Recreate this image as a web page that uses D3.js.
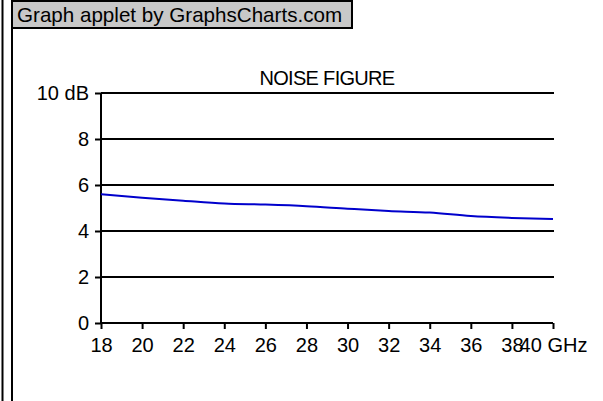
<!DOCTYPE html>
<html>
<head>
<meta charset="utf-8">
<script src="https://cdn.jsdelivr.net/npm/d3@7"></script>
<style>
html,body{margin:0;padding:0;background:#fff;}
svg{display:block;font-family:"Liberation Sans",Arial,sans-serif;}
</style>
</head>
<body>
<svg id="chart" width="603" height="401"></svg>
<script>
const frequencies = [18, 20, 22, 24, 26, 28, 30, 32, 34, 36, 38, 40];
const noiseFigure = [5.6, 5.45, 5.32, 5.2, 5.15, 5.08, 4.97, 4.87, 4.8, 4.65, 4.57, 4.52];
const xTicks = [18, 20, 22, 24, 26, 28, 30, 32, 34, 36, 38, 40];
const xTickLabels = ["18", "20", "22", "24", "26", "28", "30", "32", "34", "36", "38", "40 GHz"];
const yTicks = [0, 2, 4, 6, 8, 10];
const yTickLabels = ["0", "2", "4", "6", "8", "10 dB"];
const title = "NOISE FIGURE";
const credit = "Graph applet by GraphsCharts.com";

const svg = d3.select("#chart");
const fs = 20;

// frame
svg.append("line").attr("x1", 2.5).attr("x2", 2.5).attr("y1", 0).attr("y2", 401)
  .attr("stroke", "#000").attr("stroke-width", 2);
svg.append("line").attr("x1", 12).attr("x2", 12).attr("y1", 0).attr("y2", 401)
  .attr("stroke", "#000").attr("stroke-width", 2);
svg.append("rect").attr("x", 12).attr("y", 1).attr("width", 340).attr("height", 27)
  .attr("fill", "#c8c8c8").attr("stroke", "#000").attr("stroke-width", 2);
svg.append("text").attr("x", 17).attr("y", 22).attr("font-size", 20.6).attr("fill", "#000")
  .text(credit);

const x = d3.scaleLinear().domain([18, 40]).range([101, 553]);
const y = d3.scaleLinear().domain([0, 10]).range([323, 93]);

// gridlines
svg.append("g").selectAll("line").data(yTicks.filter(d => d > 0)).join("line")
  .attr("x1", 101).attr("x2", 554)
  .attr("y1", d => y(d)).attr("y2", d => y(d))
  .attr("stroke", "#000").attr("stroke-width", 2);

// y axis
const yAxis = d3.axisLeft(y).tickValues(yTicks).tickSize(6).tickPadding(6)
  .tickFormat((d, i) => yTickLabels[i]);
const gy = svg.append("g").attr("transform", "translate(101,0)").call(yAxis);
gy.select(".domain").attr("stroke-width", 2).attr("d", `M0,${y(0)}V${y(10)}`);
gy.selectAll(".tick line").attr("stroke-width", 2);
gy.selectAll("text").attr("font-size", fs).attr("font-family", "Liberation Sans, Arial, sans-serif").attr("fill", "#000");

// x axis
const xAxis = d3.axisBottom(x).tickValues(xTicks).tickSize(6).tickPadding(9)
  .tickFormat((d, i) => xTickLabels[i]);
const gx = svg.append("g").attr("transform", `translate(0,${y(0)})`).call(xAxis);
gx.select(".domain").attr("stroke-width", 2).attr("d", `M${x(18)},0H${x(40)}`);
gx.selectAll(".tick line").attr("stroke-width", 2);
gx.selectAll("text").attr("font-size", fs).attr("font-family", "Liberation Sans, Arial, sans-serif").attr("fill", "#000");

// title
svg.append("text").attr("x", (x(18) + x(40)) / 2).attr("y", 85).attr("text-anchor", "middle")
  .attr("font-size", fs).attr("letter-spacing", -0.7).attr("fill", "#000").text(title);

// line
const line = d3.line().x((d, i) => x(frequencies[i])).y(d => y(d)).curve(d3.curveMonotoneX);
svg.append("path").datum(noiseFigure).attr("d", line)
  .attr("fill", "none").attr("stroke", "#0000cc").attr("stroke-width", 2);
</script>
</body>
</html>
